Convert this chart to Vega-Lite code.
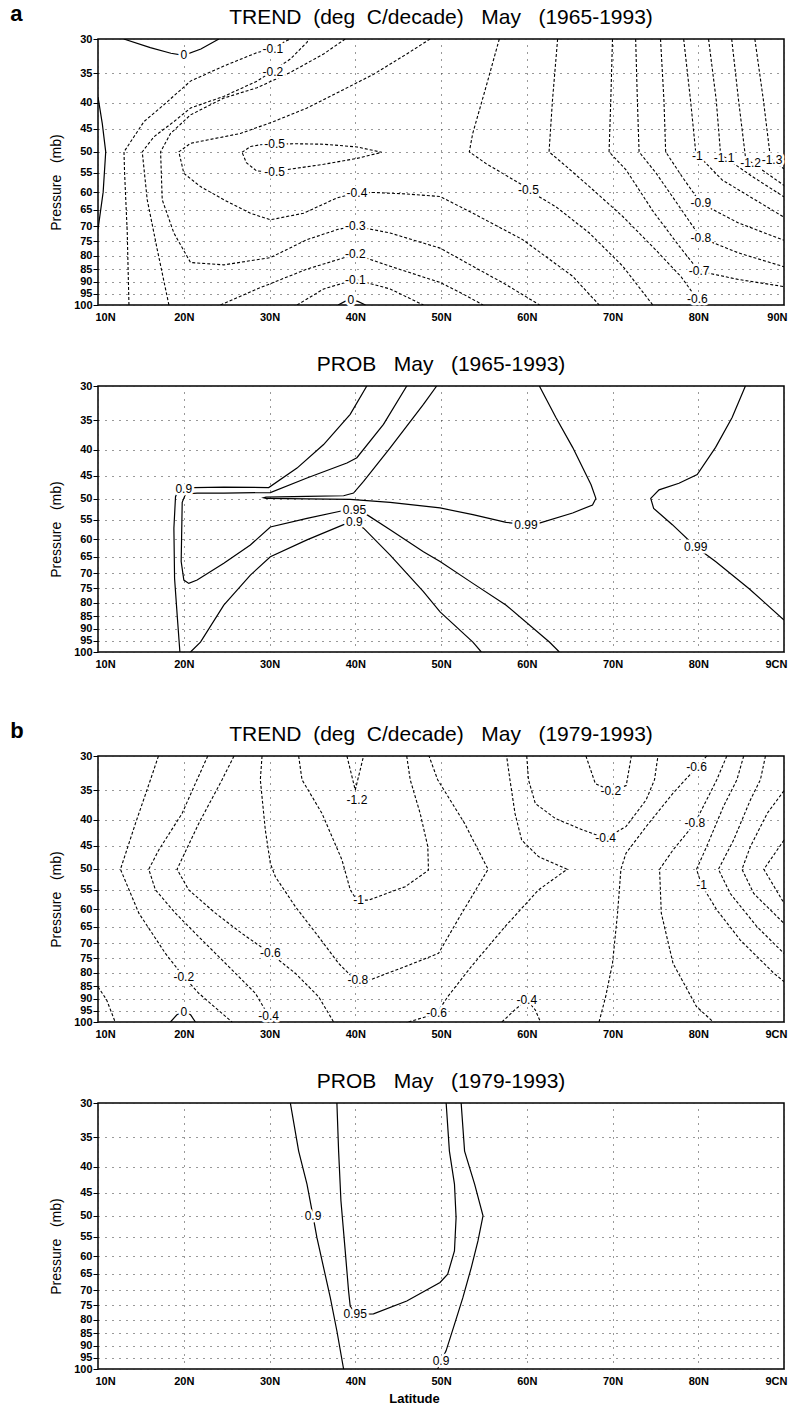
{
"$schema": "https://vega.github.io/schema/vega-lite/v6.json",
"background": "white",
"padding": {"left": 10, "top": 3, "right": 0, "bottom": 0},
"datasets": {
"L": [
{"pn":1,"id":"1z1","lv":0,"lat":13.0,"p":30},{"pn":1,"id":"1z1","lv":0,"lat":16.1,"p":31.2},{"pn":1,"id":"1z1","lv":0,"lat":18.5,"p":32.0},{"pn":1,"id":"1z1","lv":0,"lat":20.0,"p":32.3},{"pn":1,"id":"1z1","lv":0,"lat":22.0,"p":31.4},{"pn":1,"id":"1z1","lv":0,"lat":24.1,"p":30},
{"pn":1,"id":"1z2","lv":0,"lat":10,"p":39},{"pn":1,"id":"1z2","lv":0,"lat":10.5,"p":44},{"pn":1,"id":"1z2","lv":0,"lat":10.9,"p":50},{"pn":1,"id":"1z2","lv":0,"lat":10.6,"p":60},{"pn":1,"id":"1z2","lv":0,"lat":10,"p":71},
{"pn":1,"id":"1z3","lv":0,"lat":38.0,"p":100},{"pn":1,"id":"1z3","lv":0,"lat":38.8,"p":98.4},{"pn":1,"id":"1z3","lv":0,"lat":39.5,"p":97.7},{"pn":1,"id":"1z3","lv":0,"lat":40.3,"p":98.4},{"pn":1,"id":"1z3","lv":0,"lat":41.2,"p":100},
{"pn":1,"id":"1a","lv":-0.1,"lat":13.61,"p":100},{"pn":1,"id":"1a","lv":-0.1,"lat":13.41,"p":72},{"pn":1,"id":"1a","lv":-0.1,"lat":13.1,"p":55},{"pn":1,"id":"1a","lv":-0.1,"lat":13.03,"p":50},{"pn":1,"id":"1a","lv":-0.1,"lat":14.19,"p":46.7},{"pn":1,"id":"1a","lv":-0.1,"lat":15.36,"p":43.6},{"pn":1,"id":"1a","lv":-0.1,"lat":17.68,"p":40.4},{"pn":1,"id":"1a","lv":-0.1,"lat":20.79,"p":36.3},{"pn":1,"id":"1a","lv":-0.1,"lat":24.67,"p":33.9},{"pn":1,"id":"1a","lv":-0.1,"lat":28.55,"p":31.9},{"pn":1,"id":"1a","lv":-0.1,"lat":30.1,"p":31.4},{"pn":1,"id":"1a","lv":-0.1,"lat":31.65,"p":30.45},{"pn":1,"id":"1a","lv":-0.1,"lat":32.43,"p":30},
{"pn":1,"id":"1b","lv":-0.2,"lat":18.27,"p":100},{"pn":1,"id":"1b","lv":-0.2,"lat":16.91,"p":77.8},{"pn":1,"id":"1b","lv":-0.2,"lat":15.74,"p":62.1},{"pn":1,"id":"1b","lv":-0.2,"lat":15.16,"p":50},{"pn":1,"id":"1b","lv":-0.2,"lat":16.52,"p":46.7},{"pn":1,"id":"1b","lv":-0.2,"lat":18.85,"p":43.6},{"pn":1,"id":"1b","lv":-0.2,"lat":20.79,"p":41.0},{"pn":1,"id":"1b","lv":-0.2,"lat":24.67,"p":38.9},{"pn":1,"id":"1b","lv":-0.2,"lat":28.55,"p":36.3},{"pn":1,"id":"1b","lv":-0.2,"lat":30.1,"p":34.9},{"pn":1,"id":"1b","lv":-0.2,"lat":32.43,"p":32.85},{"pn":1,"id":"1b","lv":-0.2,"lat":34.37,"p":30.45},{"pn":1,"id":"1b","lv":-0.2,"lat":34.6,"p":30},
{"pn":1,"id":"1c","lv":-0.3,"lat":38.83,"p":30},{"pn":1,"id":"1c","lv":-0.3,"lat":36.31,"p":32.1},{"pn":1,"id":"1c","lv":-0.3,"lat":32.43,"p":34.9},{"pn":1,"id":"1c","lv":-0.3,"lat":28.55,"p":37.4},{"pn":1,"id":"1c","lv":-0.3,"lat":24.67,"p":39.2},{"pn":1,"id":"1c","lv":-0.3,"lat":20.79,"p":42.3},{"pn":1,"id":"1c","lv":-0.3,"lat":18.46,"p":46.0},{"pn":1,"id":"1c","lv":-0.3,"lat":17.3,"p":50},{"pn":1,"id":"1c","lv":-0.3,"lat":17.49,"p":62.1},{"pn":1,"id":"1c","lv":-0.3,"lat":18.85,"p":72.2},{"pn":1,"id":"1c","lv":-0.3,"lat":20.79,"p":82.5},{"pn":1,"id":"1c","lv":-0.3,"lat":24.67,"p":83.4},{"pn":1,"id":"1c","lv":-0.3,"lat":30.1,"p":80.7},{"pn":1,"id":"1c","lv":-0.3,"lat":34.37,"p":74.4},{"pn":1,"id":"1c","lv":-0.3,"lat":38.0,"p":71.0},{"pn":1,"id":"1c","lv":-0.3,"lat":40.0,"p":70.0},{"pn":1,"id":"1c","lv":-0.3,"lat":44.07,"p":72.2},{"pn":1,"id":"1c","lv":-0.3,"lat":49.89,"p":77.3},{"pn":1,"id":"1c","lv":-0.3,"lat":53.7,"p":83.9},{"pn":1,"id":"1c","lv":-0.3,"lat":57.5,"p":91},{"pn":1,"id":"1c","lv":-0.3,"lat":61.5,"p":100},
{"pn":1,"id":"1d","lv":-0.4,"lat":48.73,"p":30},{"pn":1,"id":"1d","lv":-0.4,"lat":46.01,"p":32.1},{"pn":1,"id":"1d","lv":-0.4,"lat":42.13,"p":35.2},{"pn":1,"id":"1d","lv":-0.4,"lat":38.25,"p":38.0},{"pn":1,"id":"1d","lv":-0.4,"lat":34.37,"p":41.0},{"pn":1,"id":"1d","lv":-0.4,"lat":30.49,"p":43.6},{"pn":1,"id":"1d","lv":-0.4,"lat":26.61,"p":46.0},{"pn":1,"id":"1d","lv":-0.4,"lat":22.73,"p":47.4},{"pn":1,"id":"1d","lv":-0.4,"lat":20.79,"p":48.1},{"pn":1,"id":"1d","lv":-0.4,"lat":19.43,"p":50},{"pn":1,"id":"1d","lv":-0.4,"lat":20.01,"p":55.1},{"pn":1,"id":"1d","lv":-0.4,"lat":21.95,"p":58.5},{"pn":1,"id":"1d","lv":-0.4,"lat":24.67,"p":62.1},{"pn":1,"id":"1d","lv":-0.4,"lat":27.77,"p":66.0},{"pn":1,"id":"1d","lv":-0.4,"lat":30.1,"p":68.0},{"pn":1,"id":"1d","lv":-0.4,"lat":33.98,"p":66.0},{"pn":1,"id":"1d","lv":-0.4,"lat":37.86,"p":61.6},{"pn":1,"id":"1d","lv":-0.4,"lat":40.0,"p":60.3},{"pn":1,"id":"1d","lv":-0.4,"lat":42.13,"p":60.1},{"pn":1,"id":"1d","lv":-0.4,"lat":46.01,"p":60.5},{"pn":1,"id":"1d","lv":-0.4,"lat":49.89,"p":61.2},{"pn":1,"id":"1d","lv":-0.4,"lat":53.72,"p":66.0},{"pn":1,"id":"1d","lv":-0.4,"lat":59.53,"p":74.4},{"pn":1,"id":"1d","lv":-0.4,"lat":65.35,"p":87.8},{"pn":1,"id":"1d","lv":-0.4,"lat":68.45,"p":100},
{"pn":1,"id":"1e","lv":-0.5,"lat":26.8,"p":50.1},{"pn":1,"id":"1e","lv":-0.5,"lat":27.8,"p":48.8},{"pn":1,"id":"1e","lv":-0.5,"lat":29,"p":48.4},{"pn":1,"id":"1e","lv":-0.5,"lat":30.1,"p":48.3},{"pn":1,"id":"1e","lv":-0.5,"lat":33,"p":48.2},{"pn":1,"id":"1e","lv":-0.5,"lat":36.3,"p":48.3},{"pn":1,"id":"1e","lv":-0.5,"lat":40.2,"p":48.9},{"pn":1,"id":"1e","lv":-0.5,"lat":43.1,"p":50.1},{"pn":1,"id":"1e","lv":-0.5,"lat":40.2,"p":51.5},{"pn":1,"id":"1e","lv":-0.5,"lat":36.3,"p":52.9},{"pn":1,"id":"1e","lv":-0.5,"lat":32,"p":54.2},{"pn":1,"id":"1e","lv":-0.5,"lat":30.1,"p":54.8},{"pn":1,"id":"1e","lv":-0.5,"lat":28.5,"p":54.5},{"pn":1,"id":"1e","lv":-0.5,"lat":27.3,"p":52.5},{"pn":1,"id":"1e","lv":-0.5,"lat":26.8,"p":50.1},
{"pn":1,"id":"1f","lv":-0.1,"lat":33.21,"p":100},{"pn":1,"id":"1f","lv":-0.1,"lat":36.31,"p":93.0},{"pn":1,"id":"1f","lv":-0.1,"lat":40.0,"p":89.1},{"pn":1,"id":"1f","lv":-0.1,"lat":44.07,"p":93.0},{"pn":1,"id":"1f","lv":-0.1,"lat":47.95,"p":100},
{"pn":1,"id":"1g","lv":-0.2,"lat":24.28,"p":100},{"pn":1,"id":"1g","lv":-0.2,"lat":28.55,"p":93.0},{"pn":1,"id":"1g","lv":-0.2,"lat":34.37,"p":85.0},{"pn":1,"id":"1g","lv":-0.2,"lat":40.0,"p":79.5},{"pn":1,"id":"1g","lv":-0.2,"lat":44.07,"p":83.9},{"pn":1,"id":"1g","lv":-0.2,"lat":49.89,"p":90.3},{"pn":1,"id":"1g","lv":-0.2,"lat":52.5,"p":95},{"pn":1,"id":"1g","lv":-0.2,"lat":54.9,"p":100},
{"pn":1,"id":"1h","lv":-0.5,"lat":56.8,"p":30},{"pn":1,"id":"1h","lv":-0.5,"lat":55.3,"p":37.0},{"pn":1,"id":"1h","lv":-0.5,"lat":53.7,"p":46.0},{"pn":1,"id":"1h","lv":-0.5,"lat":53.3,"p":50},{"pn":1,"id":"1h","lv":-0.5,"lat":55.3,"p":52.8},{"pn":1,"id":"1h","lv":-0.5,"lat":59.5,"p":58.1},{"pn":1,"id":"1h","lv":-0.5,"lat":60.1,"p":59.4},{"pn":1,"id":"1h","lv":-0.5,"lat":63.4,"p":64.1},{"pn":1,"id":"1h","lv":-0.5,"lat":67.3,"p":72.2},{"pn":1,"id":"1h","lv":-0.5,"lat":71.2,"p":83.9},{"pn":1,"id":"1h","lv":-0.5,"lat":74.7,"p":100},
{"pn":1,"id":"1i","lv":-0.6,"lat":63.6,"p":30},{"pn":1,"id":"1i","lv":-0.6,"lat":63.0,"p":39.6},{"pn":1,"id":"1i","lv":-0.6,"lat":62.6,"p":50},{"pn":1,"id":"1i","lv":-0.6,"lat":64.6,"p":53.4},{"pn":1,"id":"1i","lv":-0.6,"lat":67.3,"p":58.5},{"pn":1,"id":"1i","lv":-0.6,"lat":71.2,"p":67.0},{"pn":1,"id":"1i","lv":-0.6,"lat":75.0,"p":77.8},{"pn":1,"id":"1i","lv":-0.6,"lat":78.0,"p":88},{"pn":1,"id":"1i","lv":-0.6,"lat":79.9,"p":97.5},{"pn":1,"id":"1i","lv":-0.6,"lat":80.9,"p":100},
{"pn":1,"id":"1j","lv":-0.7,"lat":70.0,"p":30},{"pn":1,"id":"1j","lv":-0.7,"lat":69.8,"p":39.6},{"pn":1,"id":"1j","lv":-0.7,"lat":69.6,"p":50},{"pn":1,"id":"1j","lv":-0.7,"lat":71.6,"p":54.3},{"pn":1,"id":"1j","lv":-0.7,"lat":74.8,"p":65.7},{"pn":1,"id":"1j","lv":-0.7,"lat":77.8,"p":76.7},{"pn":1,"id":"1j","lv":-0.7,"lat":80.1,"p":85.8},{"pn":1,"id":"1j","lv":-0.7,"lat":84.7,"p":89.1},{"pn":1,"id":"1j","lv":-0.7,"lat":90,"p":92},
{"pn":1,"id":"1k","lv":-0.8,"lat":72.7,"p":30},{"pn":1,"id":"1k","lv":-0.8,"lat":72.9,"p":39.6},{"pn":1,"id":"1k","lv":-0.8,"lat":73.1,"p":50},{"pn":1,"id":"1k","lv":-0.8,"lat":75.1,"p":55.1},{"pn":1,"id":"1k","lv":-0.8,"lat":77.8,"p":64.1},{"pn":1,"id":"1k","lv":-0.8,"lat":80.3,"p":73.8},{"pn":1,"id":"1k","lv":-0.8,"lat":84.7,"p":79.0},{"pn":1,"id":"1k","lv":-0.8,"lat":90,"p":84.1},
{"pn":1,"id":"1l","lv":-0.9,"lat":75.6,"p":30},{"pn":1,"id":"1l","lv":-0.9,"lat":76.0,"p":39.6},{"pn":1,"id":"1l","lv":-0.9,"lat":76.2,"p":50},{"pn":1,"id":"1l","lv":-0.9,"lat":78.1,"p":55.9},{"pn":1,"id":"1l","lv":-0.9,"lat":80.3,"p":63.1},{"pn":1,"id":"1l","lv":-0.9,"lat":84.7,"p":69.0},{"pn":1,"id":"1l","lv":-0.9,"lat":90,"p":74.6},
{"pn":1,"id":"1m","lv":-1,"lat":78.3,"p":30},{"pn":1,"id":"1m","lv":-1,"lat":79.1,"p":39.6},{"pn":1,"id":"1m","lv":-1,"lat":79.7,"p":50},{"pn":1,"id":"1m","lv":-1,"lat":80.2,"p":51.2},{"pn":1,"id":"1m","lv":-1,"lat":82.8,"p":56.8},{"pn":1,"id":"1m","lv":-1,"lat":90,"p":67.2},
{"pn":1,"id":"1n","lv":-1.1,"lat":81.2,"p":30},{"pn":1,"id":"1n","lv":-1.1,"lat":82.1,"p":39.6},{"pn":1,"id":"1n","lv":-1.1,"lat":82.6,"p":50.4},{"pn":1,"id":"1n","lv":-1.1,"lat":83.0,"p":51.1},{"pn":1,"id":"1n","lv":-1.1,"lat":86.3,"p":55.9},{"pn":1,"id":"1n","lv":-1.1,"lat":90,"p":61.3},
{"pn":1,"id":"1o","lv":-1.2,"lat":83.9,"p":30},{"pn":1,"id":"1o","lv":-1.2,"lat":84.7,"p":39.6},{"pn":1,"id":"1o","lv":-1.2,"lat":85.5,"p":51.1},{"pn":1,"id":"1o","lv":-1.2,"lat":86.1,"p":52.3},{"pn":1,"id":"1o","lv":-1.2,"lat":90,"p":58.2},
{"pn":1,"id":"1p","lv":-1.3,"lat":86.6,"p":30},{"pn":1,"id":"1p","lv":-1.3,"lat":87.6,"p":39.6},{"pn":1,"id":"1p","lv":-1.3,"lat":88.4,"p":51.1},{"pn":1,"id":"1p","lv":-1.3,"lat":88.6,"p":51.9},{"pn":1,"id":"1p","lv":-1.3,"lat":90,"p":54.0},
{"pn":2,"id":"2a","lv":0.9,"lat":41.35,"p":30},{"pn":2,"id":"2a","lv":0.9,"lat":39.41,"p":34.1},{"pn":2,"id":"2a","lv":0.9,"lat":36.31,"p":39.1},{"pn":2,"id":"2a","lv":0.9,"lat":33.21,"p":43.5},{"pn":2,"id":"2a","lv":0.9,"lat":29.91,"p":47.5},{"pn":2,"id":"2a","lv":0.9,"lat":24.67,"p":47.4},{"pn":2,"id":"2a","lv":0.9,"lat":21.18,"p":47.5},{"pn":2,"id":"2a","lv":0.9,"lat":20.0,"p":47.8},{"pn":2,"id":"2a","lv":0.9,"lat":19.3,"p":48.4},{"pn":2,"id":"2a","lv":0.9,"lat":19.04,"p":49.5},{"pn":2,"id":"2a","lv":0.9,"lat":18.85,"p":57.1},{"pn":2,"id":"2a","lv":0.9,"lat":18.93,"p":71.7},{"pn":2,"id":"2a","lv":0.9,"lat":19.24,"p":84.9},{"pn":2,"id":"2a","lv":0.9,"lat":19.55,"p":100},
{"pn":2,"id":"2b","lv":0.95,"lat":46.01,"p":30},{"pn":2,"id":"2b","lv":0.95,"lat":43.29,"p":35.7},{"pn":2,"id":"2b","lv":0.95,"lat":40.19,"p":41.5},{"pn":2,"id":"2b","lv":0.95,"lat":39.03,"p":42.5},{"pn":2,"id":"2b","lv":0.95,"lat":34.37,"p":45.5},{"pn":2,"id":"2b","lv":0.95,"lat":30.10,"p":48.6},{"pn":2,"id":"2b","lv":0.95,"lat":24.67,"p":48.7},{"pn":2,"id":"2b","lv":0.95,"lat":21.56,"p":48.7},{"pn":2,"id":"2b","lv":0.95,"lat":20.21,"p":48.9},{"pn":2,"id":"2b","lv":0.95,"lat":19.82,"p":50.8},{"pn":2,"id":"2b","lv":0.95,"lat":19.70,"p":66.4},{"pn":2,"id":"2b","lv":0.95,"lat":20.01,"p":72.2},{"pn":2,"id":"2b","lv":0.95,"lat":20.59,"p":73.3},{"pn":2,"id":"2b","lv":0.95,"lat":21.56,"p":72.2},{"pn":2,"id":"2b","lv":0.95,"lat":24.67,"p":66.9},{"pn":2,"id":"2b","lv":0.95,"lat":27.77,"p":61.6},{"pn":2,"id":"2b","lv":0.95,"lat":30.10,"p":56.8},{"pn":2,"id":"2b","lv":0.95,"lat":34.37,"p":54.6},{"pn":2,"id":"2b","lv":0.95,"lat":38.64,"p":52.7},{"pn":2,"id":"2b","lv":0.95,"lat":39.80,"p":52.6},{"pn":2,"id":"2b","lv":0.95,"lat":41.35,"p":53.7},{"pn":2,"id":"2b","lv":0.95,"lat":44.07,"p":57.5},{"pn":2,"id":"2b","lv":0.95,"lat":47.95,"p":63.5},{"pn":2,"id":"2b","lv":0.95,"lat":49.89,"p":66.4},{"pn":2,"id":"2b","lv":0.95,"lat":53.72,"p":73.3},{"pn":2,"id":"2b","lv":0.95,"lat":57.6,"p":80.9},{"pn":2,"id":"2b","lv":0.95,"lat":62.64,"p":95.6},{"pn":2,"id":"2b","lv":0.95,"lat":63.8,"p":100},
{"pn":2,"id":"2c","lv":0.9,"lat":20.79,"p":100},{"pn":2,"id":"2c","lv":0.9,"lat":21.95,"p":95.6},{"pn":2,"id":"2c","lv":0.9,"lat":24.67,"p":80.9},{"pn":2,"id":"2c","lv":0.9,"lat":27.77,"p":70.6},{"pn":2,"id":"2c","lv":0.9,"lat":30.10,"p":65.0},{"pn":2,"id":"2c","lv":0.9,"lat":34.37,"p":60.2},{"pn":2,"id":"2c","lv":0.9,"lat":38.64,"p":56.2},{"pn":2,"id":"2c","lv":0.9,"lat":39.80,"p":55.6},{"pn":2,"id":"2c","lv":0.9,"lat":40.97,"p":57.1},{"pn":2,"id":"2c","lv":0.9,"lat":44.07,"p":64.5},{"pn":2,"id":"2c","lv":0.9,"lat":47.95,"p":76.1},{"pn":2,"id":"2c","lv":0.9,"lat":49.89,"p":83.4},{"pn":2,"id":"2c","lv":0.9,"lat":53.72,"p":95.6},{"pn":2,"id":"2c","lv":0.9,"lat":54.7,"p":100},
{"pn":2,"id":"2d","lv":0.99,"lat":49.50,"p":30},{"pn":2,"id":"2d","lv":0.99,"lat":47.95,"p":32.6},{"pn":2,"id":"2d","lv":0.99,"lat":44.07,"p":39.7},{"pn":2,"id":"2d","lv":0.99,"lat":40.97,"p":46.2},{"pn":2,"id":"2d","lv":0.99,"lat":39.80,"p":48.7},{"pn":2,"id":"2d","lv":0.99,"lat":38.64,"p":49.3},{"pn":2,"id":"2d","lv":0.99,"lat":34.37,"p":49.45},{"pn":2,"id":"2d","lv":0.99,"lat":29.6,"p":49.6},{"pn":2,"id":"2d","lv":0.99,"lat":29.3,"p":49.75},{"pn":2,"id":"2d","lv":0.99,"lat":29.6,"p":49.9},{"pn":2,"id":"2d","lv":0.99,"lat":34.37,"p":50.0},{"pn":2,"id":"2d","lv":0.99,"lat":39.41,"p":50.1},{"pn":2,"id":"2d","lv":0.99,"lat":44.07,"p":50.8},{"pn":2,"id":"2d","lv":0.99,"lat":49.89,"p":52.1},{"pn":2,"id":"2d","lv":0.99,"lat":53.72,"p":53.7},{"pn":2,"id":"2d","lv":0.99,"lat":57.6,"p":55.6},{"pn":2,"id":"2d","lv":0.99,"lat":59.92,"p":56.2},{"pn":2,"id":"2d","lv":0.99,"lat":61.47,"p":55.8},{"pn":2,"id":"2d","lv":0.99,"lat":65.35,"p":53.3},{"pn":2,"id":"2d","lv":0.99,"lat":67.67,"p":51.4},{"pn":2,"id":"2d","lv":0.99,"lat":68.06,"p":49.9},{"pn":2,"id":"2d","lv":0.99,"lat":67.5,"p":46.9},{"pn":2,"id":"2d","lv":0.99,"lat":65.35,"p":39.6},{"pn":2,"id":"2d","lv":0.99,"lat":63.4,"p":34.6},{"pn":2,"id":"2d","lv":0.99,"lat":61.47,"p":30},
{"pn":2,"id":"2e","lv":0.99,"lat":85.5,"p":30},{"pn":2,"id":"2e","lv":0.99,"lat":83.95,"p":34.6},{"pn":2,"id":"2e","lv":0.99,"lat":82.02,"p":39.6},{"pn":2,"id":"2e","lv":0.99,"lat":79.88,"p":44.8},{"pn":2,"id":"2e","lv":0.99,"lat":77.75,"p":46.6},{"pn":2,"id":"2e","lv":0.99,"lat":75.43,"p":48.0},{"pn":2,"id":"2e","lv":0.99,"lat":74.46,"p":49.9},{"pn":2,"id":"2e","lv":0.99,"lat":74.8,"p":52.2},{"pn":2,"id":"2e","lv":0.99,"lat":76.98,"p":56.2},{"pn":2,"id":"2e","lv":0.99,"lat":79.69,"p":62.1},{"pn":2,"id":"2e","lv":0.99,"lat":82.02,"p":66.4},{"pn":2,"id":"2e","lv":0.99,"lat":85.9,"p":75.0},{"pn":2,"id":"2e","lv":0.99,"lat":90,"p":86.5},
{"pn":3,"id":"3a","lv":-0.2,"lat":17.05,"p":30},{"pn":3,"id":"3a","lv":-0.2,"lat":16.12,"p":33.4},{"pn":3,"id":"3a","lv":-0.2,"lat":14.37,"p":40.7},{"pn":3,"id":"3a","lv":-0.2,"lat":12.62,"p":50.1},{"pn":3,"id":"3a","lv":-0.2,"lat":14.76,"p":61.1},{"pn":3,"id":"3a","lv":-0.2,"lat":17.86,"p":73.3},{"pn":3,"id":"3a","lv":-0.2,"lat":20.0,"p":81.5},{"pn":3,"id":"3a","lv":-0.2,"lat":21.75,"p":87.8},{"pn":3,"id":"3a","lv":-0.2,"lat":24.47,"p":96.2},{"pn":3,"id":"3a","lv":-0.2,"lat":25.63,"p":100},
{"pn":3,"id":"3b","lv":-0.2,"lat":10,"p":85.3},{"pn":3,"id":"3b","lv":-0.2,"lat":11.0,"p":90.4},{"pn":3,"id":"3b","lv":-0.2,"lat":12.0,"p":100},
{"pn":3,"id":"3c","lv":-0.4,"lat":22.8,"p":30},{"pn":3,"id":"3c","lv":-0.4,"lat":21.55,"p":33.4},{"pn":3,"id":"3c","lv":-0.4,"lat":19.81,"p":38.9},{"pn":3,"id":"3c","lv":-0.4,"lat":17.09,"p":45.9},{"pn":3,"id":"3c","lv":-0.4,"lat":15.92,"p":50.1},{"pn":3,"id":"3c","lv":-0.4,"lat":16.70,"p":55.0},{"pn":3,"id":"3c","lv":-0.4,"lat":19.03,"p":61.1},{"pn":3,"id":"3c","lv":-0.4,"lat":21.75,"p":68.0},{"pn":3,"id":"3c","lv":-0.4,"lat":25.24,"p":77.8},{"pn":3,"id":"3c","lv":-0.4,"lat":28.35,"p":87.8},{"pn":3,"id":"3c","lv":-0.4,"lat":29.9,"p":97.2},{"pn":3,"id":"3c","lv":-0.4,"lat":30.49,"p":100},
{"pn":3,"id":"3d","lv":-0.6,"lat":25.86,"p":30},{"pn":3,"id":"3d","lv":-0.6,"lat":24.47,"p":33.4},{"pn":3,"id":"3d","lv":-0.6,"lat":21.75,"p":40.7},{"pn":3,"id":"3d","lv":-0.6,"lat":19.22,"p":50.1},{"pn":3,"id":"3d","lv":-0.6,"lat":20.58,"p":55.0},{"pn":3,"id":"3d","lv":-0.6,"lat":23.69,"p":61.1},{"pn":3,"id":"3d","lv":-0.6,"lat":26.8,"p":67.0},{"pn":3,"id":"3d","lv":-0.6,"lat":30.1,"p":73.3},{"pn":3,"id":"3d","lv":-0.6,"lat":33.01,"p":80.2},{"pn":3,"id":"3d","lv":-0.6,"lat":35.73,"p":89.2},{"pn":3,"id":"3d","lv":-0.6,"lat":37.48,"p":100},
{"pn":3,"id":"3e","lv":-0.8,"lat":29.13,"p":30},{"pn":3,"id":"3e","lv":-0.8,"lat":28.93,"p":33.4},{"pn":3,"id":"3e","lv":-0.8,"lat":29.51,"p":41.9},{"pn":3,"id":"3e","lv":-0.8,"lat":30.1,"p":48.8},{"pn":3,"id":"3e","lv":-0.8,"lat":30.68,"p":51.8},{"pn":3,"id":"3e","lv":-0.8,"lat":33.01,"p":59.3},{"pn":3,"id":"3e","lv":-0.8,"lat":35.73,"p":68.0},{"pn":3,"id":"3e","lv":-0.8,"lat":38.06,"p":76.7},{"pn":3,"id":"3e","lv":-0.8,"lat":40.0,"p":82.7},{"pn":3,"id":"3e","lv":-0.8,"lat":41.94,"p":82.4},{"pn":3,"id":"3e","lv":-0.8,"lat":45.83,"p":77.8},{"pn":3,"id":"3e","lv":-0.8,"lat":49.71,"p":73.3},{"pn":3,"id":"3e","lv":-0.8,"lat":51.96,"p":63.0},{"pn":3,"id":"3e","lv":-0.8,"lat":55.49,"p":50.1},{"pn":3,"id":"3e","lv":-0.8,"lat":52.75,"p":40.7},{"pn":3,"id":"3e","lv":-0.8,"lat":49.61,"p":33.4},{"pn":3,"id":"3e","lv":-0.8,"lat":48.6,"p":30},
{"pn":3,"id":"3f","lv":-1,"lat":33.4,"p":30},{"pn":3,"id":"3f","lv":-1,"lat":33.79,"p":33.4},{"pn":3,"id":"3f","lv":-1,"lat":36.12,"p":38.9},{"pn":3,"id":"3f","lv":-1,"lat":38.45,"p":48.0},{"pn":3,"id":"3f","lv":-1,"lat":39.42,"p":55.0},{"pn":3,"id":"3f","lv":-1,"lat":40.19,"p":57.6},{"pn":3,"id":"3f","lv":-1,"lat":41.55,"p":57.6},{"pn":3,"id":"3f","lv":-1,"lat":45.83,"p":54.2},{"pn":3,"id":"3f","lv":-1,"lat":48.54,"p":50.3},{"pn":3,"id":"3f","lv":-1,"lat":48.46,"p":45.2},{"pn":3,"id":"3f","lv":-1,"lat":47.57,"p":38.9},{"pn":3,"id":"3f","lv":-1,"lat":46.41,"p":33.4},{"pn":3,"id":"3f","lv":-1,"lat":46.0,"p":30},
{"pn":3,"id":"3g","lv":-1.2,"lat":39.03,"p":30},{"pn":3,"id":"3g","lv":-1.2,"lat":40.0,"p":35.0},{"pn":3,"id":"3g","lv":-1.2,"lat":40.97,"p":30},
{"pn":3,"id":"3h","lv":0,"lat":18.45,"p":100},{"pn":3,"id":"3h","lv":0,"lat":19.2,"p":96.8},{"pn":3,"id":"3h","lv":0,"lat":20.0,"p":95.6},{"pn":3,"id":"3h","lv":0,"lat":20.8,"p":96.8},{"pn":3,"id":"3h","lv":0,"lat":21.36,"p":100},
{"pn":3,"id":"3i","lv":-0.6,"lat":46.21,"p":100},{"pn":3,"id":"3i","lv":-0.6,"lat":47.76,"p":98.2},{"pn":3,"id":"3i","lv":-0.6,"lat":49.5,"p":96.2},{"pn":3,"id":"3i","lv":-0.6,"lat":50.78,"p":89.2},{"pn":3,"id":"3i","lv":-0.6,"lat":53.53,"p":77.8},{"pn":3,"id":"3i","lv":-0.6,"lat":57.45,"p":65.0},{"pn":3,"id":"3i","lv":-0.6,"lat":61.37,"p":55.0},{"pn":3,"id":"3i","lv":-0.6,"lat":64.71,"p":50.1},{"pn":3,"id":"3i","lv":-0.6,"lat":61.37,"p":47.3},{"pn":3,"id":"3i","lv":-0.6,"lat":59.41,"p":43.9},{"pn":3,"id":"3i","lv":-0.6,"lat":58.63,"p":38.9},{"pn":3,"id":"3i","lv":-0.6,"lat":58.04,"p":33.4},{"pn":3,"id":"3i","lv":-0.6,"lat":57.65,"p":30},
{"pn":3,"id":"3j","lv":-0.4,"lat":60,"p":30},{"pn":3,"id":"3j","lv":-0.4,"lat":60.2,"p":33.4},{"pn":3,"id":"3j","lv":-0.4,"lat":61,"p":37.2},{"pn":3,"id":"3j","lv":-0.4,"lat":63.33,"p":39.8},{"pn":3,"id":"3j","lv":-0.4,"lat":66.47,"p":41.9},{"pn":3,"id":"3j","lv":-0.4,"lat":69.2,"p":43.5},{"pn":3,"id":"3j","lv":-0.4,"lat":71.57,"p":41.3},{"pn":3,"id":"3j","lv":-0.4,"lat":73.92,"p":36.6},{"pn":3,"id":"3j","lv":-0.4,"lat":74.9,"p":33.4},{"pn":3,"id":"3j","lv":-0.4,"lat":75.3,"p":30},
{"pn":3,"id":"3k","lv":-0.2,"lat":66.9,"p":30},{"pn":3,"id":"3k","lv":-0.2,"lat":68.0,"p":34.0},{"pn":3,"id":"3k","lv":-0.2,"lat":69.8,"p":35.1},{"pn":3,"id":"3k","lv":-0.2,"lat":71.6,"p":34.3},{"pn":3,"id":"3k","lv":-0.2,"lat":72.2,"p":30},
{"pn":3,"id":"3l","lv":-0.4,"lat":57.1,"p":100},{"pn":3,"id":"3l","lv":-0.4,"lat":58.6,"p":94.7},{"pn":3,"id":"3l","lv":-0.4,"lat":60,"p":90.4},{"pn":3,"id":"3l","lv":-0.4,"lat":61,"p":94.7},{"pn":3,"id":"3l","lv":-0.4,"lat":61.6,"p":100},
{"pn":3,"id":"3m","lv":-0.6,"lat":81.0,"p":30},{"pn":3,"id":"3m","lv":-0.6,"lat":79.8,"p":31.6},{"pn":3,"id":"3m","lv":-0.6,"lat":77.06,"p":35.5},{"pn":3,"id":"3m","lv":-0.6,"lat":73.92,"p":41.3},{"pn":3,"id":"3m","lv":-0.6,"lat":71.57,"p":46.6},{"pn":3,"id":"3m","lv":-0.6,"lat":70.98,"p":50.1},{"pn":3,"id":"3m","lv":-0.6,"lat":70.59,"p":61.1},{"pn":3,"id":"3m","lv":-0.6,"lat":70.0,"p":76.7},{"pn":3,"id":"3m","lv":-0.6,"lat":69.2,"p":89.2},{"pn":3,"id":"3m","lv":-0.6,"lat":68.43,"p":100},
{"pn":3,"id":"3n","lv":-0.8,"lat":83.33,"p":30},{"pn":3,"id":"3n","lv":-0.8,"lat":82.16,"p":33.4},{"pn":3,"id":"3n","lv":-0.8,"lat":79.6,"p":40.7},{"pn":3,"id":"3n","lv":-0.8,"lat":77.06,"p":45.9},{"pn":3,"id":"3n","lv":-0.8,"lat":75.49,"p":50.1},{"pn":3,"id":"3n","lv":-0.8,"lat":75.69,"p":61.1},{"pn":3,"id":"3n","lv":-0.8,"lat":77.06,"p":76.7},{"pn":3,"id":"3n","lv":-0.8,"lat":79.8,"p":93.3},{"pn":3,"id":"3n","lv":-0.8,"lat":81.76,"p":100},
{"pn":3,"id":"3o","lv":-1,"lat":85.3,"p":30},{"pn":3,"id":"3o","lv":-1,"lat":84.51,"p":33.4},{"pn":3,"id":"3o","lv":-1,"lat":82.94,"p":37.7},{"pn":3,"id":"3o","lv":-1,"lat":80.98,"p":45.2},{"pn":3,"id":"3o","lv":-1,"lat":79.8,"p":50.1},{"pn":3,"id":"3o","lv":-1,"lat":80.4,"p":53.8},{"pn":3,"id":"3o","lv":-1,"lat":82.16,"p":60.2},{"pn":3,"id":"3o","lv":-1,"lat":84.9,"p":69.0},{"pn":3,"id":"3o","lv":-1,"lat":88.82,"p":80.2},{"pn":3,"id":"3o","lv":-1,"lat":90,"p":83.3},
{"pn":3,"id":"3p","lv":-1.2,"lat":87.84,"p":30},{"pn":3,"id":"3p","lv":-1.2,"lat":87.25,"p":33.4},{"pn":3,"id":"3p","lv":-1.2,"lat":86.08,"p":36.6},{"pn":3,"id":"3p","lv":-1.2,"lat":84.12,"p":43.9},{"pn":3,"id":"3p","lv":-1.2,"lat":82.35,"p":50.1},{"pn":3,"id":"3p","lv":-1.2,"lat":83.73,"p":55.9},{"pn":3,"id":"3p","lv":-1.2,"lat":86.86,"p":65.0},{"pn":3,"id":"3p","lv":-1.2,"lat":90,"p":73.3},
{"pn":3,"id":"3q","lv":-1.4,"lat":90,"p":35.1},{"pn":3,"id":"3q","lv":-1.4,"lat":88.04,"p":38.9},{"pn":3,"id":"3q","lv":-1.4,"lat":86.08,"p":45.2},{"pn":3,"id":"3q","lv":-1.4,"lat":85.1,"p":50.1},{"pn":3,"id":"3q","lv":-1.4,"lat":86.47,"p":55.9},{"pn":3,"id":"3q","lv":-1.4,"lat":90,"p":64.0},
{"pn":3,"id":"3r","lv":-1.6,"lat":90,"p":43.9},{"pn":3,"id":"3r","lv":-1.6,"lat":87.65,"p":50.1},{"pn":3,"id":"3r","lv":-1.6,"lat":90,"p":58.4},
{"pn":4,"id":"4a","lv":0.9,"lat":32.43,"p":30},{"pn":4,"id":"4a","lv":0.9,"lat":33.4,"p":37.3},{"pn":4,"id":"4a","lv":0.9,"lat":34.37,"p":43.3},{"pn":4,"id":"4a","lv":0.9,"lat":35.07,"p":50.0},{"pn":4,"id":"4a","lv":0.9,"lat":35.53,"p":55.2},{"pn":4,"id":"4a","lv":0.9,"lat":36.31,"p":63.2},{"pn":4,"id":"4a","lv":0.9,"lat":37.09,"p":72.4},{"pn":4,"id":"4a","lv":0.9,"lat":37.86,"p":84.2},{"pn":4,"id":"4a","lv":0.9,"lat":38.64,"p":100},
{"pn":4,"id":"4b","lv":0.95,"lat":37.86,"p":30},{"pn":4,"id":"4b","lv":0.95,"lat":38.06,"p":37.3},{"pn":4,"id":"4b","lv":0.95,"lat":38.33,"p":46.7},{"pn":4,"id":"4b","lv":0.95,"lat":38.83,"p":58.6},{"pn":4,"id":"4b","lv":0.95,"lat":39.22,"p":70.2},{"pn":4,"id":"4b","lv":0.95,"lat":39.41,"p":75.2},{"pn":4,"id":"4b","lv":0.95,"lat":40.0,"p":78.1},{"pn":4,"id":"4b","lv":0.95,"lat":42.13,"p":77.9},{"pn":4,"id":"4b","lv":0.95,"lat":46.01,"p":73.5},{"pn":4,"id":"4b","lv":0.95,"lat":49.89,"p":67.6},{"pn":4,"id":"4b","lv":0.95,"lat":50.78,"p":65.1},{"pn":4,"id":"4b","lv":0.95,"lat":51.57,"p":58.6},{"pn":4,"id":"4b","lv":0.95,"lat":51.76,"p":50.4},{"pn":4,"id":"4b","lv":0.95,"lat":51.57,"p":43.3},{"pn":4,"id":"4b","lv":0.95,"lat":50.98,"p":37.3},{"pn":4,"id":"4b","lv":0.95,"lat":50.6,"p":30},
{"pn":4,"id":"4c","lv":0.9,"lat":52.35,"p":30},{"pn":4,"id":"4c","lv":0.9,"lat":52.75,"p":37.3},{"pn":4,"id":"4c","lv":0.9,"lat":53.92,"p":43.3},{"pn":4,"id":"4c","lv":0.9,"lat":54.9,"p":50.0},{"pn":4,"id":"4c","lv":0.9,"lat":54.31,"p":56.0},{"pn":4,"id":"4c","lv":0.9,"lat":53.53,"p":63.2},{"pn":4,"id":"4c","lv":0.9,"lat":52.55,"p":72.4},{"pn":4,"id":"4c","lv":0.9,"lat":51.57,"p":81.7},{"pn":4,"id":"4c","lv":0.9,"lat":50.59,"p":92.1},{"pn":4,"id":"4c","lv":0.9,"lat":50.0,"p":96.6},{"pn":4,"id":"4c","lv":0.9,"lat":49.6,"p":100}
],
"T": [
{"pn":1,"t":"0","lat":20.0,"p":32.3},{"pn":1,"t":"0","lat":39.5,"p":97.8},{"pn":1,"t":"-0.1","lat":30.4,"p":31.4},{"pn":1,"t":"-0.2","lat":30.4,"p":34.9},{"pn":1,"t":"-0.5","lat":30.6,"p":48.3},{"pn":1,"t":"-0.5","lat":30.6,"p":54.7},{"pn":1,"t":"-0.4","lat":40.2,"p":60.3},{"pn":1,"t":"-0.3","lat":40.0,"p":70.0},{"pn":1,"t":"-0.2","lat":40.0,"p":79.5},{"pn":1,"t":"-0.1","lat":40.0,"p":89.1},{"pn":1,"t":"-0.5","lat":60.2,"p":59.4},{"pn":1,"t":"-1","lat":79.9,"p":50.9},{"pn":1,"t":"-1.1","lat":83.0,"p":51.5},{"pn":1,"t":"-1.2","lat":86.1,"p":52.5},{"pn":1,"t":"-1.3","lat":88.6,"p":51.9},{"pn":1,"t":"-0.9","lat":80.3,"p":63.1},{"pn":1,"t":"-0.8","lat":80.3,"p":73.8},{"pn":1,"t":"-0.7","lat":80.1,"p":85.8},{"pn":1,"t":"-0.6","lat":79.9,"p":97.5},
{"pn":2,"t":"0.9","lat":20.0,"p":47.8},{"pn":2,"t":"0.95","lat":39.9,"p":52.6},{"pn":2,"t":"0.9","lat":39.9,"p":55.6},{"pn":2,"t":"0.99","lat":59.9,"p":56.2},{"pn":2,"t":"0.99","lat":79.7,"p":62.1},
{"pn":3,"t":"-1.2","lat":40.2,"p":36.6},{"pn":3,"t":"-1","lat":40.4,"p":57.6},{"pn":3,"t":"-0.8","lat":40.3,"p":82.6},{"pn":3,"t":"-0.6","lat":30.1,"p":73.3},{"pn":3,"t":"-0.2","lat":20.0,"p":81.5},{"pn":3,"t":"-0.4","lat":29.9,"p":97.2},{"pn":3,"t":"0","lat":20.0,"p":95.6},{"pn":3,"t":"-0.6","lat":49.5,"p":96.2},{"pn":3,"t":"-0.4","lat":60.0,"p":90.4},{"pn":3,"t":"-0.2","lat":69.8,"p":35.1},{"pn":3,"t":"-0.4","lat":69.2,"p":43.5},{"pn":3,"t":"-0.6","lat":79.8,"p":31.6},{"pn":3,"t":"-0.8","lat":79.6,"p":40.7},{"pn":3,"t":"-1","lat":80.4,"p":53.8},
{"pn":4,"t":"0.9","lat":35.07,"p":50.0},{"pn":4,"t":"0.95","lat":40.0,"p":78.1},{"pn":4,"t":"0.9","lat":50.0,"p":96.6}
]
},
"config": {
"view": {"stroke": "black", "strokeWidth": 1.5},
"font": "Liberation Sans",
"title": {"font": "Liberation Sans", "fontSize": 21, "fontWeight": "normal", "color": "black", "offset": 5, "baseline": "alphabetic"},
"axis": {"domain": false, "grid": true, "gridColor": "#333333", "gridDash": [1, 6], "gridWidth": 1, "tickColor": "black", "labelColor": "black", "titleColor": "black", "labelFont": "Liberation Sans", "labelFontWeight": "bold", "labelOverlap": false},
"axisY": {"labelFontSize": 11, "tickSize": 5, "labelPadding": 1, "titleFont": "Liberation Sans", "titleFontSize": 14, "titleFontWeight": "normal", "titleX": -42, "titleY": 143, "titleAlign": "center", "titleBaseline": "middle", "titleAngle": 270},
"axisX": {"labelFont": "Liberation Sans Narrow, Liberation Sans", "labelFontSize": 11, "ticks": false, "labelPadding": 6, "labelFlush": true, "labelFlushOffset": 3, "titleFont": "Liberation Sans", "titleFontSize": 13, "titleFontWeight": "bold", "titleX": 316, "titleY": 33, "titleAlign": "center", "titleBaseline": "alphabetic"}
},
"spacing": 50,
"vconcat": [
{
"title": {"text": "a", "anchor": "start", "frame": "bounds", "fontSize": 22, "fontWeight": "bold", "offset": -20, "dx": -38},
"spacing": 30,
"vconcat": [
{
"title": {"text": "TREND\u00a0\u00a0(deg\u00a0\u00a0C/decade)\u00a0\u00a0\u00a0May\u00a0\u00a0\u00a0(1965-1993)"},
"width": 686, "height": 266,
"encoding": {
"x": {"field": "lat", "type": "quantitative", "scale": {"domain": [10, 90], "nice": false, "zero": false}, "axis": {"values": [10,20,30,40,50,60,70,80,90], "labelExpr": "datum.value + 'N'", "title": null}},
"y": {"field": "p", "type": "quantitative", "scale": {"type": "log", "domain": [30, 100], "reverse": true, "nice": false}, "axis": {"values": [30,35,40,45,50,55,60,65,70,75,80,85,90,95,100], "format": "d", "title": "Pressure\u00a0\u00a0\u00a0(mb)"}}
},
"layer": [
{"data": {"name": "L"}, "transform": [{"filter": "datum.pn == 1 && datum.lv < 0"}], "mark": {"type": "line", "color": "black", "strokeWidth": 1.1, "strokeDash": [3, 2], "clip": true}, "encoding": {"detail": {"field": "id"}, "order": {"value": null}}},
{"data": {"name": "L"}, "transform": [{"filter": "datum.pn == 1 && datum.lv >= 0"}], "mark": {"type": "line", "color": "black", "strokeWidth": 1.2, "clip": true}, "encoding": {"detail": {"field": "id"}, "order": {"value": null}}},
{"data": {"name": "T"}, "transform": [{"filter": "datum.pn == 1"}], "mark": {"type": "text", "fontSize": 12, "fill": "white", "stroke": "white", "strokeWidth": 5, "strokeJoin": "round"}, "encoding": {"text": {"field": "t"}}},
{"data": {"name": "T"}, "transform": [{"filter": "datum.pn == 1"}], "mark": {"type": "text", "fontSize": 12, "color": "black"}, "encoding": {"text": {"field": "t"}}}
]
},
{
"title": {"text": "PROB\u00a0\u00a0\u00a0May\u00a0\u00a0\u00a0(1965-1993)"},
"width": 686, "height": 266,
"encoding": {
"x": {"field": "lat", "type": "quantitative", "scale": {"domain": [10, 90], "nice": false, "zero": false}, "axis": {"values": [10,20,30,40,50,60,70,80,90], "labelExpr": "datum.value == 90 ? '9CN' : datum.value + 'N'", "title": null}},
"y": {"field": "p", "type": "quantitative", "scale": {"type": "log", "domain": [30, 100], "reverse": true, "nice": false}, "axis": {"values": [30,35,40,45,50,55,60,65,70,75,80,85,90,95,100], "format": "d", "title": "Pressure\u00a0\u00a0\u00a0(mb)"}}
},
"layer": [
{"data": {"name": "L"}, "transform": [{"filter": "datum.pn == 2"}], "mark": {"type": "line", "color": "black", "strokeWidth": 1.2, "clip": true}, "encoding": {"detail": {"field": "id"}, "order": {"value": null}}},
{"data": {"name": "T"}, "transform": [{"filter": "datum.pn == 2"}], "mark": {"type": "text", "fontSize": 12, "fill": "white", "stroke": "white", "strokeWidth": 5, "strokeJoin": "round"}, "encoding": {"text": {"field": "t"}}},
{"data": {"name": "T"}, "transform": [{"filter": "datum.pn == 2"}], "mark": {"type": "text", "fontSize": 12, "color": "black"}, "encoding": {"text": {"field": "t"}}}
]
}
]
},
{
"title": {"text": "b", "anchor": "start", "frame": "bounds", "fontSize": 22, "fontWeight": "bold", "offset": -20, "dx": -38},
"spacing": 30,
"vconcat": [
{
"title": {"text": "TREND\u00a0\u00a0(deg\u00a0\u00a0C/decade)\u00a0\u00a0\u00a0May\u00a0\u00a0\u00a0(1979-1993)"},
"width": 686, "height": 266,
"encoding": {
"x": {"field": "lat", "type": "quantitative", "scale": {"domain": [10, 90], "nice": false, "zero": false}, "axis": {"values": [10,20,30,40,50,60,70,80,90], "labelExpr": "datum.value == 90 ? '9CN' : datum.value + 'N'", "title": null}},
"y": {"field": "p", "type": "quantitative", "scale": {"type": "log", "domain": [30, 100], "reverse": true, "nice": false}, "axis": {"values": [30,35,40,45,50,55,60,65,70,75,80,85,90,95,100], "format": "d", "title": "Pressure\u00a0\u00a0\u00a0(mb)"}}
},
"layer": [
{"data": {"name": "L"}, "transform": [{"filter": "datum.pn == 3 && datum.lv < 0"}], "mark": {"type": "line", "color": "black", "strokeWidth": 1.1, "strokeDash": [3, 2], "clip": true}, "encoding": {"detail": {"field": "id"}, "order": {"value": null}}},
{"data": {"name": "L"}, "transform": [{"filter": "datum.pn == 3 && datum.lv >= 0"}], "mark": {"type": "line", "color": "black", "strokeWidth": 1.2, "clip": true}, "encoding": {"detail": {"field": "id"}, "order": {"value": null}}},
{"data": {"name": "T"}, "transform": [{"filter": "datum.pn == 3"}], "mark": {"type": "text", "fontSize": 12, "fill": "white", "stroke": "white", "strokeWidth": 5, "strokeJoin": "round"}, "encoding": {"text": {"field": "t"}}},
{"data": {"name": "T"}, "transform": [{"filter": "datum.pn == 3"}], "mark": {"type": "text", "fontSize": 12, "color": "black"}, "encoding": {"text": {"field": "t"}}}
]
},
{
"title": {"text": "PROB\u00a0\u00a0\u00a0May\u00a0\u00a0\u00a0(1979-1993)"},
"width": 686, "height": 266,
"encoding": {
"x": {"field": "lat", "type": "quantitative", "scale": {"domain": [10, 90], "nice": false, "zero": false}, "axis": {"values": [10,20,30,40,50,60,70,80,90], "labelExpr": "datum.value == 90 ? '9CN' : datum.value + 'N'", "title": "Latitude"}},
"y": {"field": "p", "type": "quantitative", "scale": {"type": "log", "domain": [30, 100], "reverse": true, "nice": false}, "axis": {"values": [30,35,40,45,50,55,60,65,70,75,80,85,90,95,100], "format": "d", "title": "Pressure\u00a0\u00a0\u00a0(mb)"}}
},
"layer": [
{"data": {"name": "L"}, "transform": [{"filter": "datum.pn == 4"}], "mark": {"type": "line", "color": "black", "strokeWidth": 1.2, "clip": true}, "encoding": {"detail": {"field": "id"}, "order": {"value": null}}},
{"data": {"name": "T"}, "transform": [{"filter": "datum.pn == 4"}], "mark": {"type": "text", "fontSize": 12, "fill": "white", "stroke": "white", "strokeWidth": 5, "strokeJoin": "round"}, "encoding": {"text": {"field": "t"}}},
{"data": {"name": "T"}, "transform": [{"filter": "datum.pn == 4"}], "mark": {"type": "text", "fontSize": 12, "color": "black"}, "encoding": {"text": {"field": "t"}}}
]
}
]
}
]
}
